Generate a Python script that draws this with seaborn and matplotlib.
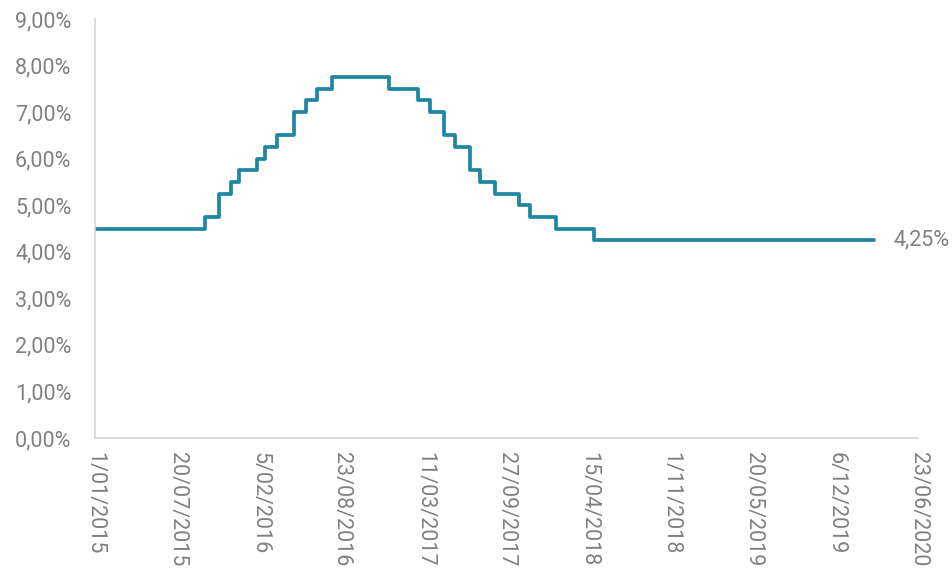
import seaborn as sns
import matplotlib.pyplot as plt
import matplotlib.dates as mdates
import numpy as np, pandas as pd

# Policy rate steps (date of change, new level in %)
change_dates = ["2015-01-01", "2015-09-25", "2015-10-30", "2015-11-27", "2015-12-18",
                "2016-01-29", "2016-02-19", "2016-03-18", "2016-04-29", "2016-05-27",
                "2016-06-24", "2016-07-29", "2016-12-16", "2017-02-24", "2017-03-24",
                "2017-04-28", "2017-05-26", "2017-06-30", "2017-07-25", "2017-08-31",
                "2017-10-27", "2017-11-24", "2018-01-26", "2018-04-27", "2020-03-07"]
rates = [4.50, 4.75, 5.25, 5.50, 5.75,
         6.00, 6.25, 6.50, 7.00, 7.25,
         7.50, 7.75, 7.50, 7.25, 7.00,
         6.50, 6.25, 5.75, 5.50, 5.25,
         5.00, 4.75, 4.50, 4.25, 4.25]
last_label = "4,25%"

frame = pd.DataFrame({"fecha": pd.to_datetime(change_dates), "tasa": rates})

sns.set_style("white")
plt.rcParams['font.family'] = ['Roboto', 'DejaVu Sans']
grey = "#808080"
line_color = "#1f87a2"
fs = 15.5

fig, ax = plt.subplots(figsize=(9.53, 5.71), dpi=100)
fig.subplots_adjust(left=0.0997, right=0.9633, bottom=0.2329, top=0.9667)

sns.lineplot(data=frame, x="fecha", y="tasa", ax=ax, color=line_color,
             linewidth=2.7, drawstyle="steps-post")

# x axis: ticks every 200 days
start = pd.Timestamp("2015-01-01")
ticks = pd.date_range(start, periods=11, freq="200D")
ax.set_xlim(mdates.date2num(ticks[0]), mdates.date2num(ticks[-1]))
ax.set_xticks(mdates.date2num(ticks))
ax.set_xticklabels([f"{d.day}/{d.month:02d}/{d.year}" for d in ticks],
                   rotation=-90, fontsize=fs, color=grey, va="top", ha="center")

# y axis
ax.set_ylim(0, 9)
yt = np.arange(0, 10, 1)
ax.set_yticks(yt)
ax.set_yticklabels([f"{v:.2f}".replace(".", ",") + "%" for v in yt],
                   fontsize=fs, color=grey)

ax.tick_params(axis="x", length=0, pad=10)
ax.tick_params(axis="y", length=0, pad=17)
ax.set_xlabel("")
ax.set_ylabel("")
for s in ["top", "right"]:
    ax.spines[s].set_visible(False)
for s in ["left", "bottom"]:
    ax.spines[s].set_color("#d4d4dc")
    ax.spines[s].set_linewidth(1.2)

# end label
ax.annotate(last_label, xy=(frame["fecha"].iloc[-1], frame["tasa"].iloc[-1]),
            xytext=(14, 0), textcoords="offset points", va="center", ha="left",
            fontsize=fs, color=grey, annotation_clip=False)

plt.savefig("out.png", dpi=100)
plt.close()
